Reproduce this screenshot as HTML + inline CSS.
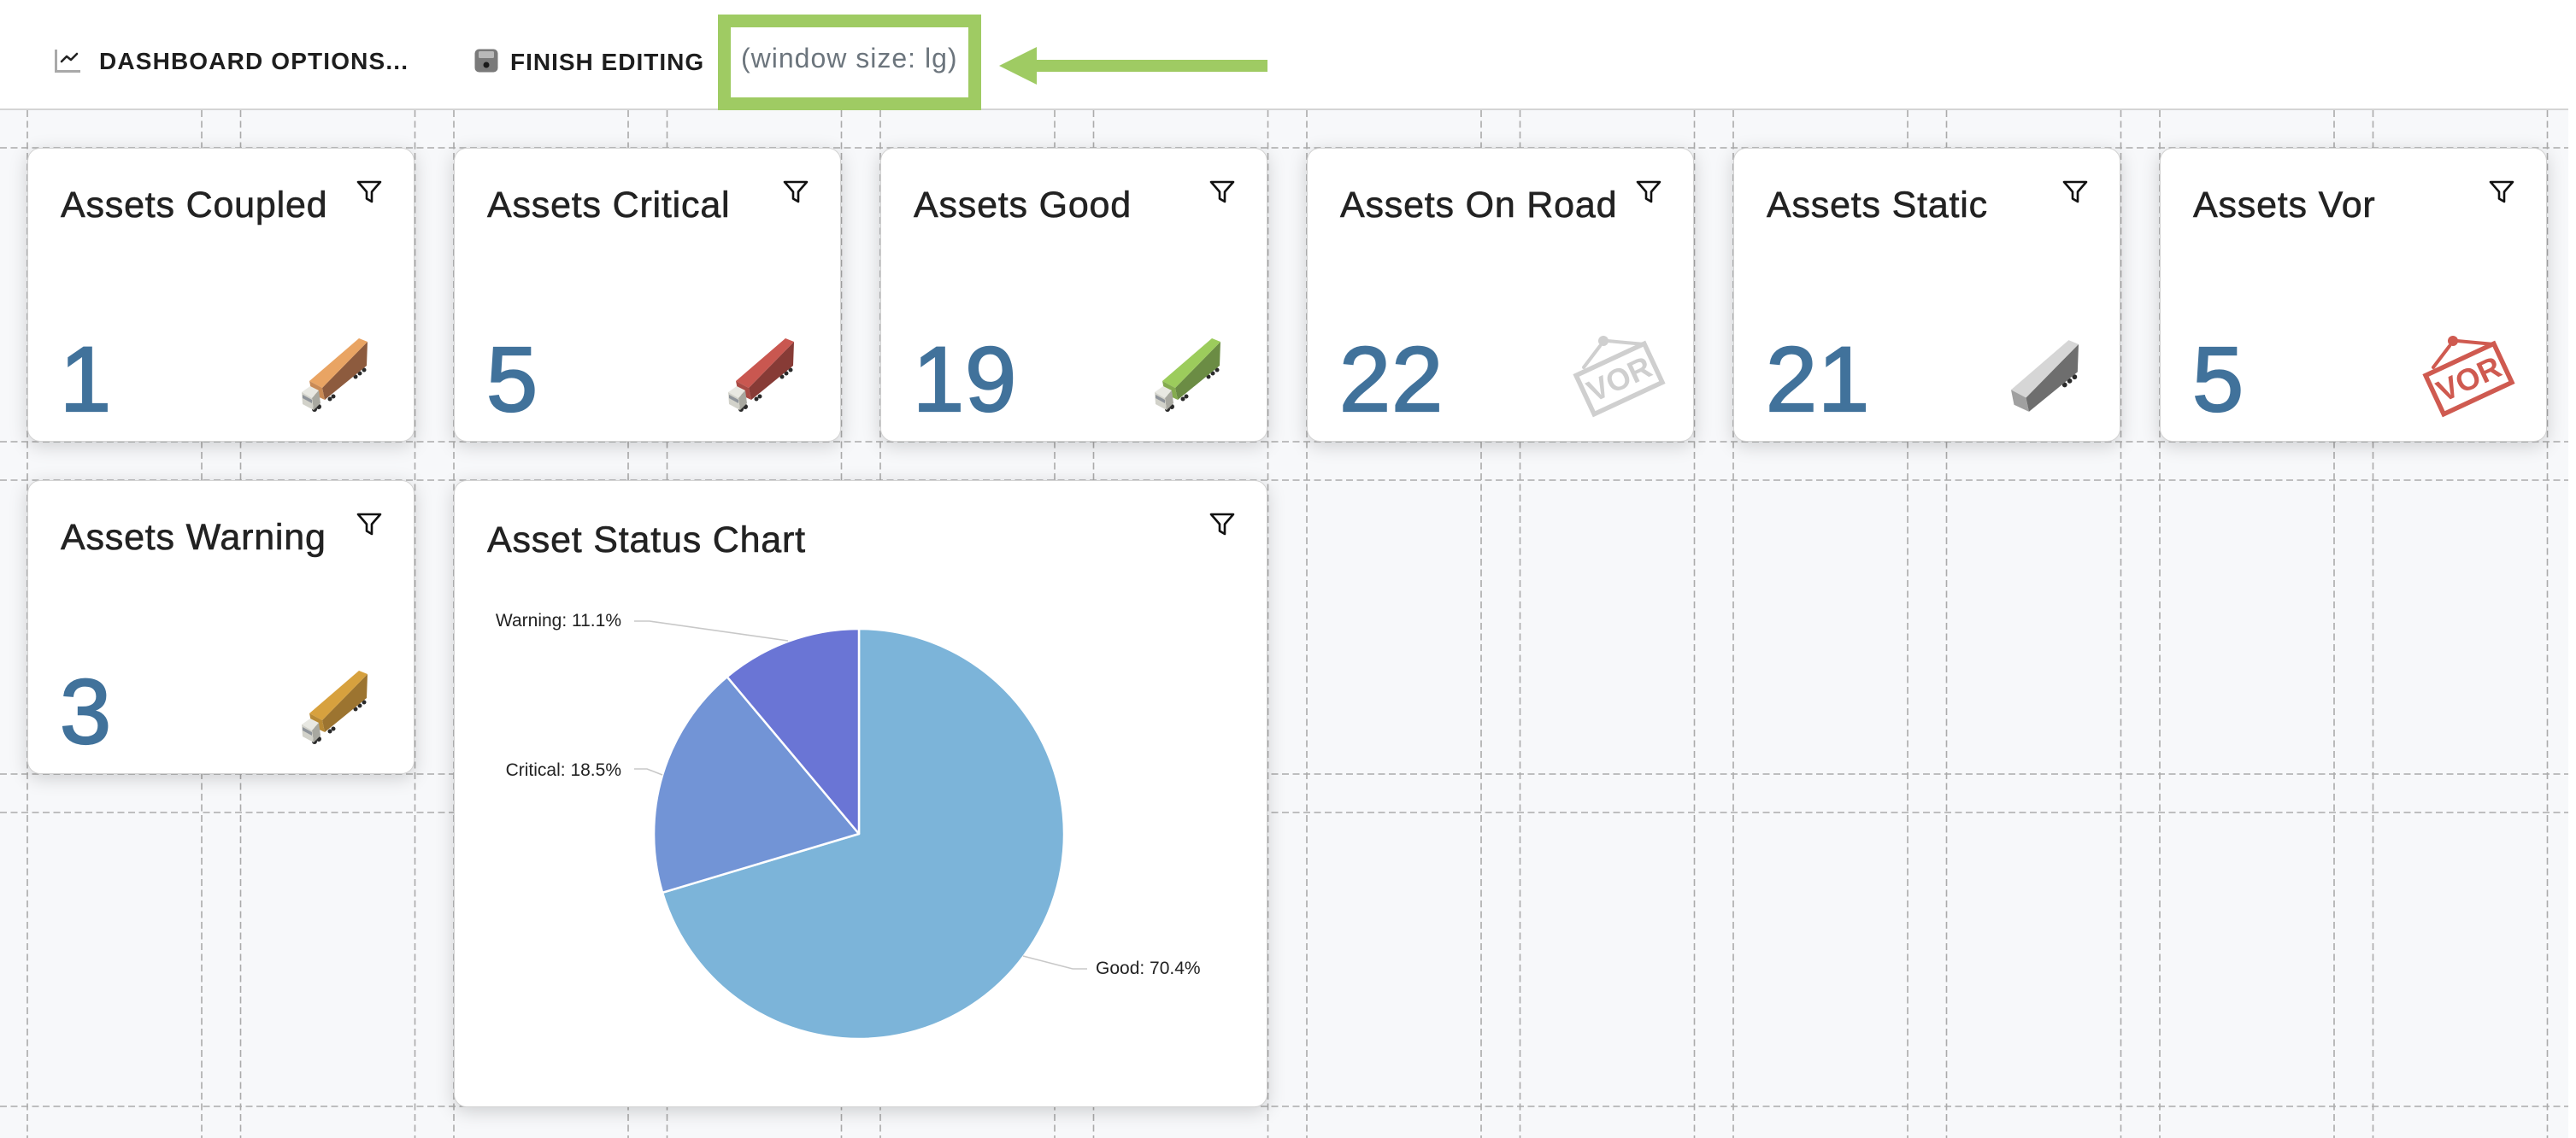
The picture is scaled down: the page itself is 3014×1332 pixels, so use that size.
<!DOCTYPE html>
<html><head><meta charset="utf-8">
<style>
html,body{margin:0;padding:0;}
body{width:3014px;height:1332px;position:relative;overflow:hidden;background:#fff;font-family:"Liberation Sans",Arial,sans-serif;}
.abs{position:absolute;}
#gridbg{position:absolute;left:0;top:129px;width:3005px;height:1203px;background:#f7f8fa;}
#toolbar{position:absolute;left:0;top:0;width:3005px;height:127px;background:#fff;border-bottom:2px solid #d4d4d4;}
.tb{position:absolute;font-size:28px;line-height:28px;font-weight:bold;letter-spacing:1px;color:#1e1e1e;white-space:nowrap;}
.card{position:absolute;background:#fff;border:1.5px solid #d3d3d3;border-radius:15px;box-shadow:0 5px 22px rgba(0,0,0,.17);box-sizing:border-box;}
.title{position:absolute;left:38px;top:45px;font-size:43px;line-height:43px;letter-spacing:.8px;color:#222;white-space:nowrap;-webkit-text-stroke:.6px #222;}
.num{position:absolute;left:37px;top:216px;font-size:108px;line-height:108px;color:#41729b;white-space:nowrap;-webkit-text-stroke:2.2px #41729b;letter-spacing:1px;}
.filter{position:absolute;right:37px;top:37px;width:30px;height:27px;}
.ico{position:absolute;}
</style></head>
<body>
<div id="gridbg"></div>
<svg class="abs" style="left:0;top:0" width="3014" height="1332">
<g stroke="#ababab" stroke-width="1.6" stroke-dasharray="8 4.5" fill="none">
<line x1="32" y1="129" x2="32" y2="1332"/><line x1="236" y1="129" x2="236" y2="1332"/>
<line x1="281.5" y1="129" x2="281.5" y2="1332"/><line x1="485.5" y1="129" x2="485.5" y2="1332"/>
<line x1="531" y1="129" x2="531" y2="1332"/><line x1="735" y1="129" x2="735" y2="1332"/>
<line x1="780.5" y1="129" x2="780.5" y2="1332"/><line x1="984.5" y1="129" x2="984.5" y2="1332"/>
<line x1="1030" y1="129" x2="1030" y2="1332"/><line x1="1234" y1="129" x2="1234" y2="1332"/>
<line x1="1279.5" y1="129" x2="1279.5" y2="1332"/><line x1="1483.5" y1="129" x2="1483.5" y2="1332"/>
<line x1="1529" y1="129" x2="1529" y2="1332"/><line x1="1733" y1="129" x2="1733" y2="1332"/>
<line x1="1778.5" y1="129" x2="1778.5" y2="1332"/><line x1="1982.5" y1="129" x2="1982.5" y2="1332"/>
<line x1="2028" y1="129" x2="2028" y2="1332"/><line x1="2232" y1="129" x2="2232" y2="1332"/>
<line x1="2277.5" y1="129" x2="2277.5" y2="1332"/><line x1="2481.5" y1="129" x2="2481.5" y2="1332"/>
<line x1="2527" y1="129" x2="2527" y2="1332"/><line x1="2731" y1="129" x2="2731" y2="1332"/>
<line x1="2776.5" y1="129" x2="2776.5" y2="1332"/><line x1="2980.5" y1="129" x2="2980.5" y2="1332"/>
<line x1="0" y1="173" x2="3005" y2="173"/><line x1="0" y1="517" x2="3005" y2="517"/>
<line x1="0" y1="562" x2="3005" y2="562"/><line x1="0" y1="906" x2="3005" y2="906"/>
<line x1="0" y1="951" x2="3005" y2="951"/><line x1="0" y1="1295" x2="3005" y2="1295"/>
</g>
</svg>

<div id="toolbar"></div>
<svg class="abs" style="left:62px;top:55px" width="36" height="32" viewBox="0 0 36 32">
<path d="M3.5,3 V28.5 H32" stroke="#a9a9a9" stroke-width="3" fill="none"/>
<path d="M10,17 L16,11 L21,15 L28,8" stroke="#222" stroke-width="2.6" fill="none" stroke-linejoin="round" stroke-linecap="round"/>
</svg>
<div class="tb" style="left:116px;top:58px;letter-spacing:1.15px">DASHBOARD OPTIONS...</div>
<svg class="abs" style="left:555px;top:57px" width="28" height="28" viewBox="0 0 28 28">
<rect x="0.5" y="0.5" width="27" height="27" rx="5" fill="#7a7a7a"/>
<rect x="5" y="3" width="18" height="8" rx="1.5" fill="#b9b9b9"/>
<circle cx="14" cy="19" r="3.5" fill="#1a1a1a"/>
</svg>
<div class="tb" style="left:597px;top:59px">FINISH EDITING</div>
<div class="abs" style="left:840px;top:17px;width:308px;height:112px;border:15px solid #9fcb63;box-sizing:border-box;"></div>
<div class="abs" style="left:867px;top:52px;font-size:32px;line-height:32px;letter-spacing:1px;color:#6c757d;white-space:nowrap;">(window size: lg)</div>
<svg class="abs" style="left:0;top:0" width="1500" height="110">
<polygon points="1169,77 1213,55 1213,70 1483,70 1483,84 1213,84 1213,99" fill="#9fcb63"/>
</svg>

<!-- Row 0 -->
<div class="card" style="left:32px;top:173px;width:453px;height:344px;">
<div class="title">Assets Coupled</div>
<svg class="filter" viewBox="0 0 30 27"><path d="M2,2 H28 L18,13.5 V25 L12,21.5 V13.5 Z" stroke="#111" stroke-width="2.6" fill="none" stroke-linejoin="round"/></svg>
<div class="num">1</div>
<svg class="ico" style="left:307px;top:210px" width="110" height="110" viewBox="0 0 110 110">
<g fill="#2a2a2a"><circle cx="28" cy="95" r="3"/><circle cx="33" cy="92" r="3"/><circle cx="46" cy="83" r="2.5"/><circle cx="50" cy="80" r="2.5"/><circle cx="76" cy="57" r="2.5"/><circle cx="81" cy="53" r="2.5"/><circle cx="86" cy="49" r="2.5"/></g>
<polygon points="37,70 90,16 89,44 40,84" fill="#8d5b3e"/>
<polygon points="22,62 80,12 90,16 37,70" fill="#e9a463"/>
<polygon points="22,62 37,70 40,84 25,77" fill="#c98a55"/>
<polygon points="13,75 23,68 33,73 25,82" fill="#e8e8e2"/>
<polygon points="25,82 33,73 35,88 27,96" fill="#a8a8a0"/>
<polygon points="13,75 25,82 27,96 14,89" fill="#d2d2ca"/>
<polygon points="14,78 25,84 25,88 14,82" fill="#8f949a"/>
</svg>
</div>

<div class="card" style="left:531px;top:173px;width:453px;height:344px;">
<div class="title">Assets Critical</div>
<svg class="filter" viewBox="0 0 30 27"><path d="M2,2 H28 L18,13.5 V25 L12,21.5 V13.5 Z" stroke="#111" stroke-width="2.6" fill="none" stroke-linejoin="round"/></svg>
<div class="num">5</div>
<svg class="ico" style="left:307px;top:210px" width="110" height="110" viewBox="0 0 110 110">
<g fill="#2a2a2a"><circle cx="28" cy="95" r="3"/><circle cx="33" cy="92" r="3"/><circle cx="46" cy="83" r="2.5"/><circle cx="50" cy="80" r="2.5"/><circle cx="76" cy="57" r="2.5"/><circle cx="81" cy="53" r="2.5"/><circle cx="86" cy="49" r="2.5"/></g>
<polygon points="37,70 90,16 89,44 40,84" fill="#873b36"/>
<polygon points="22,62 80,12 90,16 37,70" fill="#c95750"/>
<polygon points="22,62 37,70 40,84 25,77" fill="#a94a44"/>
<polygon points="13,75 23,68 33,73 25,82" fill="#e8e8e2"/>
<polygon points="25,82 33,73 35,88 27,96" fill="#a8a8a0"/>
<polygon points="13,75 25,82 27,96 14,89" fill="#d2d2ca"/>
<polygon points="14,78 25,84 25,88 14,82" fill="#8f949a"/>
</svg>
</div>

<div class="card" style="left:1030px;top:173px;width:453px;height:344px;">
<div class="title">Assets Good</div>
<svg class="filter" viewBox="0 0 30 27"><path d="M2,2 H28 L18,13.5 V25 L12,21.5 V13.5 Z" stroke="#111" stroke-width="2.6" fill="none" stroke-linejoin="round"/></svg>
<div class="num">19</div>
<svg class="ico" style="left:307px;top:210px" width="110" height="110" viewBox="0 0 110 110">
<g fill="#2a2a2a"><circle cx="28" cy="95" r="3"/><circle cx="33" cy="92" r="3"/><circle cx="46" cy="83" r="2.5"/><circle cx="50" cy="80" r="2.5"/><circle cx="76" cy="57" r="2.5"/><circle cx="81" cy="53" r="2.5"/><circle cx="86" cy="49" r="2.5"/></g>
<polygon points="37,70 90,16 89,44 40,84" fill="#6b8c44"/>
<polygon points="22,62 80,12 90,16 37,70" fill="#9ccc5c"/>
<polygon points="22,62 37,70 40,84 25,77" fill="#84ab4f"/>
<polygon points="13,75 23,68 33,73 25,82" fill="#e8e8e2"/>
<polygon points="25,82 33,73 35,88 27,96" fill="#a8a8a0"/>
<polygon points="13,75 25,82 27,96 14,89" fill="#d2d2ca"/>
<polygon points="14,78 25,84 25,88 14,82" fill="#8f949a"/>
</svg>
</div>

<div class="card" style="left:1529px;top:173px;width:453px;height:344px;">
<div class="title">Assets On Road</div>
<svg class="filter" viewBox="0 0 30 27"><path d="M2,2 H28 L18,13.5 V25 L12,21.5 V13.5 Z" stroke="#111" stroke-width="2.6" fill="none" stroke-linejoin="round"/></svg>
<div class="num">22</div>
<svg class="ico" style="left:306px;top:210px" width="130" height="130" viewBox="0 0 130 130">
<g stroke="#cfcfcf" stroke-width="4" stroke-linecap="round" fill="none"><line x1="36" y1="21" x2="17" y2="46"/><line x1="45" y1="15" x2="88" y2="19"/></g>
<circle cx="40" cy="15" r="6" fill="#cfcfcf"/>
<rect x="14.5" y="34.5" width="88" height="50" fill="#fff" stroke="#cfcfcf" stroke-width="5.5" transform="rotate(-25 58.5 59.5)"/>
<text x="58.5" y="72" text-anchor="middle" font-family="Liberation Sans" font-weight="bold" font-size="36" fill="#cfcfcf" transform="rotate(-25 58.5 59.5)">VOR</text>
</svg>
</div>

<div class="card" style="left:2028px;top:173px;width:453px;height:344px;">
<div class="title">Assets Static</div>
<svg class="filter" viewBox="0 0 30 27"><path d="M2,2 H28 L18,13.5 V25 L12,21.5 V13.5 Z" stroke="#111" stroke-width="2.6" fill="none" stroke-linejoin="round"/></svg>
<div class="num">21</div>
<svg class="ico" style="left:324px;top:224px" width="79" height="84" viewBox="22 12 68 72">
<g fill="#2a2a2a"><circle cx="76" cy="57" r="2.5"/><circle cx="81" cy="53" r="2.5"/><circle cx="86" cy="49" r="2.5"/></g>
<polygon points="37,70 90,16 89,44 40,84" fill="#6e6e6e"/>
<polygon points="22,62 80,12 90,16 37,70" fill="#d6d6d6"/>
<polygon points="22,62 37,70 40,84 25,77" fill="#a0a0a0"/>
</svg>
</div>

<div class="card" style="left:2527px;top:173px;width:453px;height:344px;">
<div class="title">Assets Vor</div>
<svg class="filter" viewBox="0 0 30 27"><path d="M2,2 H28 L18,13.5 V25 L12,21.5 V13.5 Z" stroke="#111" stroke-width="2.6" fill="none" stroke-linejoin="round"/></svg>
<div class="num">5</div>
<svg class="ico" style="left:302px;top:210px" width="130" height="130" viewBox="0 0 130 130">
<g stroke="#cf5a50" stroke-width="4" stroke-linecap="round" fill="none"><line x1="36" y1="21" x2="17" y2="46"/><line x1="45" y1="15" x2="88" y2="19"/></g>
<circle cx="40" cy="15" r="6" fill="#cf5a50"/>
<rect x="14.5" y="34.5" width="88" height="50" fill="#fff" stroke="#cf5a50" stroke-width="5.5" transform="rotate(-25 58.5 59.5)"/>
<text x="58.5" y="72" text-anchor="middle" font-family="Liberation Sans" font-weight="bold" font-size="36" fill="#cf5a50" transform="rotate(-25 58.5 59.5)">VOR</text>
</svg>
</div>

<!-- Row 1 -->
<div class="card" style="left:32px;top:562px;width:453px;height:344px;">
<div class="title">Assets Warning</div>
<svg class="filter" viewBox="0 0 30 27"><path d="M2,2 H28 L18,13.5 V25 L12,21.5 V13.5 Z" stroke="#111" stroke-width="2.6" fill="none" stroke-linejoin="round"/></svg>
<div class="num">3</div>
<svg class="ico" style="left:307px;top:210px" width="110" height="110" viewBox="0 0 110 110">
<g fill="#2a2a2a"><circle cx="28" cy="95" r="3"/><circle cx="33" cy="92" r="3"/><circle cx="46" cy="83" r="2.5"/><circle cx="50" cy="80" r="2.5"/><circle cx="76" cy="57" r="2.5"/><circle cx="81" cy="53" r="2.5"/><circle cx="86" cy="49" r="2.5"/></g>
<polygon points="37,70 90,16 89,44 40,84" fill="#9c7430"/>
<polygon points="22,62 80,12 90,16 37,70" fill="#d7a13e"/>
<polygon points="22,62 37,70 40,84 25,77" fill="#b88a35"/>
<polygon points="13,75 23,68 33,73 25,82" fill="#e8e8e2"/>
<polygon points="25,82 33,73 35,88 27,96" fill="#a8a8a0"/>
<polygon points="13,75 25,82 27,96 14,89" fill="#d2d2ca"/>
<polygon points="14,78 25,84 25,88 14,82" fill="#8f949a"/>
</svg>
</div>

<div class="card" style="left:531px;top:562px;width:952px;height:734px;">
<div class="title" style="top:48px">Asset Status Chart</div>
<svg class="filter" viewBox="0 0 30 27"><path d="M2,2 H28 L18,13.5 V25 L12,21.5 V13.5 Z" stroke="#111" stroke-width="2.6" fill="none" stroke-linejoin="round"/></svg>
</div>

<svg class="abs" style="left:0;top:0" width="3014" height="1332">
<g stroke="#fff" stroke-width="2.5" stroke-linejoin="round">
<path d="M1005,976 L1005,736 A240,240 0 1 1 775.1,1044.8 Z" fill="#7cb4d9"/>
<path d="M1005,976 L775.1,1044.8 A240,240 0 0 1 850.7,792.2 Z" fill="#7294d6"/>
<path d="M1005,976 L850.7,792.2 A240,240 0 0 1 1005,736 Z" fill="#6a75d5"/>
</g>
<g stroke="#c8c8c8" stroke-width="1.6" fill="none">
<polyline points="742,727 760,727 922,750"/>
<polyline points="742,900 757,900 775,907"/>
<polyline points="1197,1119 1255,1134 1272,1134"/>
</g>
<g font-family="Liberation Sans, Arial, sans-serif" font-size="21" fill="#222">
<text x="727" y="733" text-anchor="end">Warning: 11.1%</text>
<text x="727" y="908" text-anchor="end">Critical: 18.5%</text>
<text x="1282" y="1140">Good: 70.4%</text>
</g>
</svg>
</body></html>
